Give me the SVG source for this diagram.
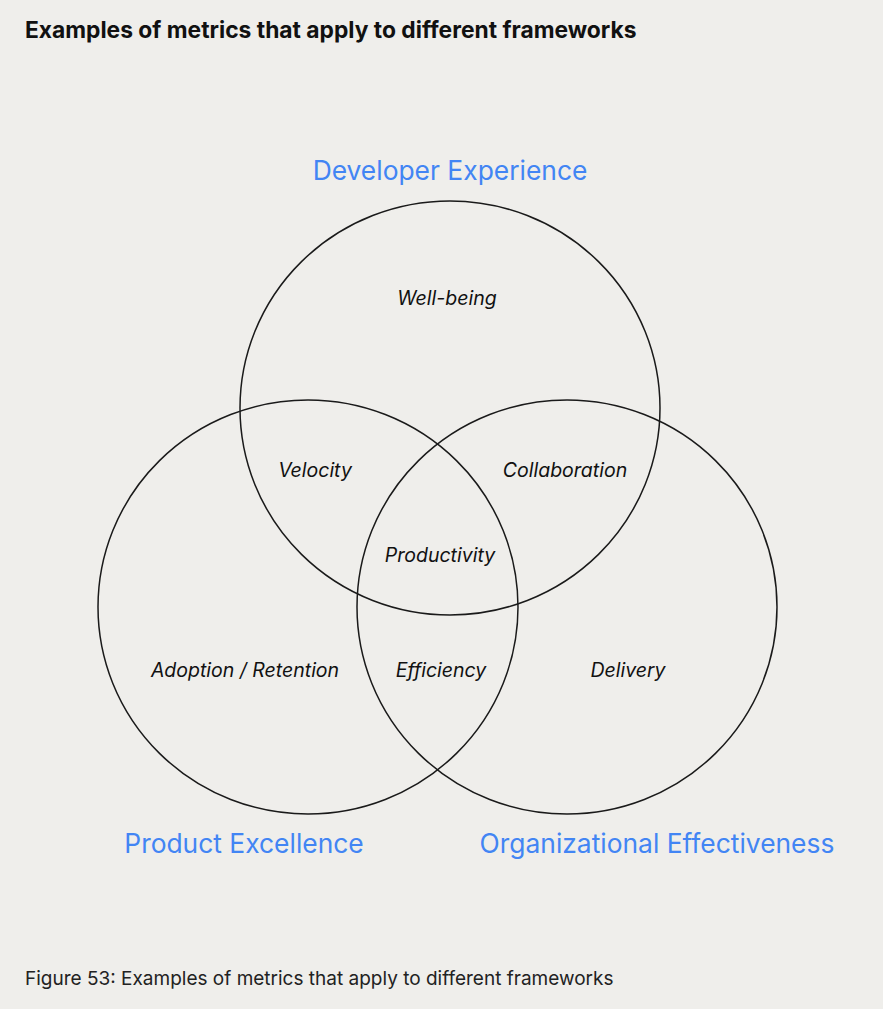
<svg xmlns="http://www.w3.org/2000/svg" width="883" height="1009" viewBox="0 0 883 1009">
<style>
.t{font-family:Inter,"Open Sans","Liberation Sans",sans-serif;fill:#111}
.title{font-size:22.8px;font-weight:700}
.cap{font-size:19px;font-weight:400;fill:#222}
.set{font-family:Inter,"Open Sans","Liberation Sans",sans-serif;font-size:26.4px;fill:#4285F4;text-anchor:middle}
.lab{font-family:Inter,"Open Sans","Liberation Sans",sans-serif;font-size:19.5px;font-style:italic;fill:#111;text-anchor:middle}
.c{fill:none;stroke:#1a1a1a;stroke-width:1.5}
</style>
<rect width="883" height="1009" fill="#EFEEEB"/>
<text class="t title" x="25" y="38">Examples of metrics that apply to different frameworks</text>
<g id="connectors"></g>
<g id="developer-experience">
<ellipse class="c" cx="450" cy="408" rx="210" ry="207"/>
<text class="set" x="450" y="180">Developer Experience</text>
</g>
<g id="product-excellence">
<ellipse class="c" cx="308" cy="607" rx="210" ry="207"/>
<text class="set" x="244" y="853">Product Excellence</text>
</g>
<g id="organizational-effectiveness">
<ellipse class="c" cx="567" cy="607" rx="210" ry="207"/>
<text class="set" x="657" y="853">Organizational Effectiveness</text>
</g>
<g id="well-being"><text class="lab" x="447" y="305">Well-being</text></g>
<g id="velocity"><text class="lab" x="315" y="477">Velocity</text></g>
<g id="collaboration"><text class="lab" x="565" y="477">Collaboration</text></g>
<g id="productivity"><text class="lab" x="440" y="562">Productivity</text></g>
<g id="adoption-retention"><text class="lab" x="245" y="677">Adoption / Retention</text></g>
<g id="efficiency"><text class="lab" x="441" y="677">Efficiency</text></g>
<g id="delivery"><text class="lab" x="628" y="677">Delivery</text></g>
<text class="t cap" x="25" y="985">Figure 53: Examples of metrics that apply to different frameworks</text>
</svg>
